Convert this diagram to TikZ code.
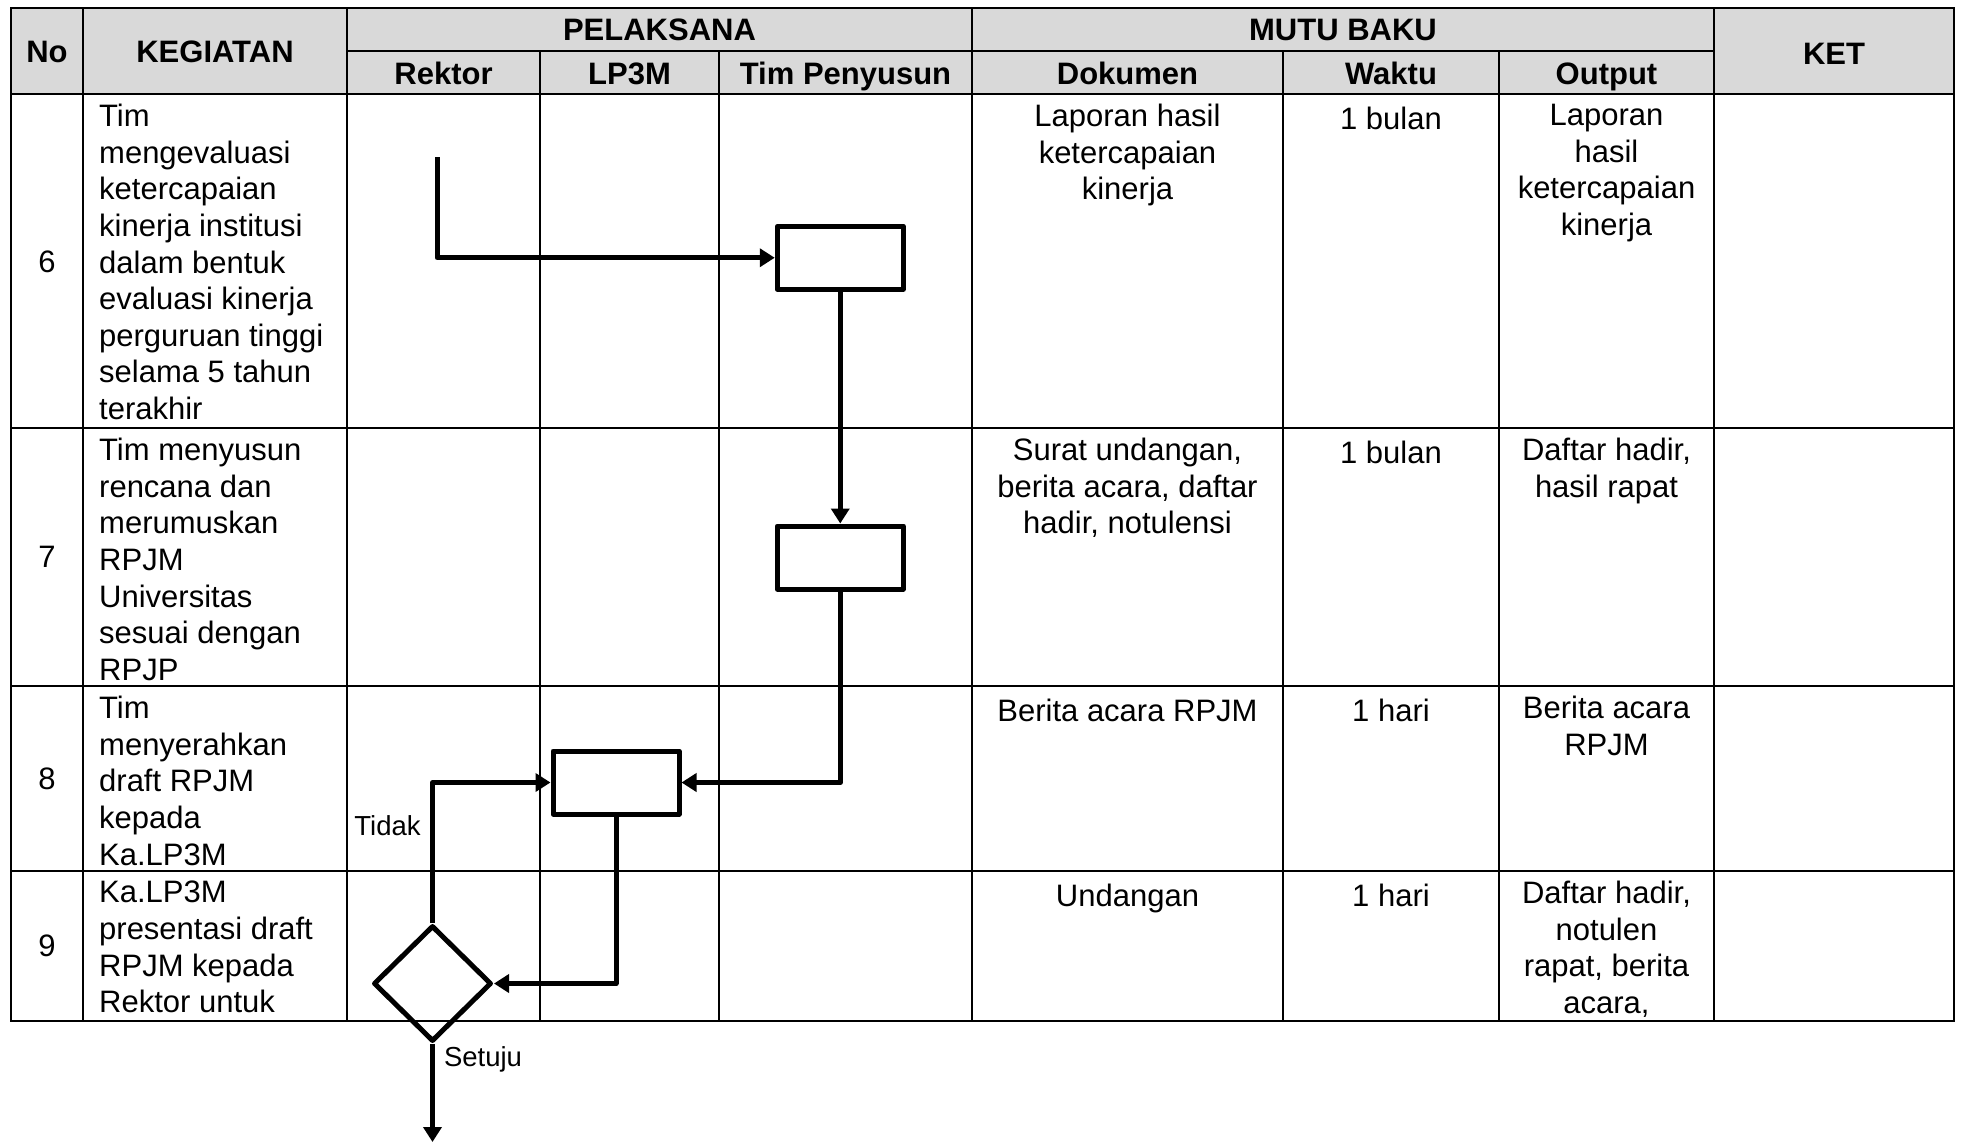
\documentclass[tikz,border=0pt]{standalone}
\usepackage{fontspec}
\setmainfont{Liberation Sans}
\usetikzlibrary{arrows.meta,shapes.geometric}

\tikzset{
  garis/.style={line width=2pt},
  isi/.style={anchor=north, inner sep=0pt, font=\fontsize{31}{36.6}\selectfont, execute at begin node=\strut},
  kiri/.style={isi, align=left, anchor=north west},
  tengah/.style={isi, align=center},
  judul/.style={anchor=base, inner sep=0pt, font=\fontsize{31}{36.6}\selectfont\bfseries},
  nomor/.style={inner sep=0pt, font=\fontsize{31}{36.6}\selectfont},
  kotak/.style={draw, line width=5pt, line join=round, minimum width=126pt, minimum height=63pt, inner sep=0pt},
  keputusan/.style={draw, diamond, line width=5pt, line join=round, minimum width=118pt, minimum height=116pt, inner sep=0pt},
  alur/.style={line width=5pt, line join=round},
  label/.style={inner sep=0pt, font=\fontsize{27.5}{32}\selectfont}
}

\begin{document}
\begin{tikzpicture}[x=1pt, y=-1pt, >={Triangle[length=15pt,width=18pt]}]
  \useasboundingbox (0,0) rectangle (1963,1143);

  % Kepala tabel
  \fill[gray!30] (11,8) rectangle (1954,94);
  \draw[garis] (11,8) rectangle (1954,1021);
  \draw[garis] (347,51) -- (1714,51);
  \foreach \y in {94,428,686,871}
    \draw[garis] (11,\y) -- (1954,\y);
  \foreach \x in {83,347,1714}
    \draw[garis] (\x,8) -- (\x,1021);
  \foreach \x in {540,719,1283,1499}
    \draw[garis] (\x,51) -- (\x,1021);
  \draw[garis] (972,8) -- (972,1021);

  \node[judul] (hNo) at (47,62.5) {No};
  \node[judul] (hKeg) at (215,62.5) {KEGIATAN};
  \node[judul] (hPel) at (659.5,40.5) {PELAKSANA};
  \node[judul] (hMutu) at (1343,40.5) {MUTU BAKU};
  \node[judul] (hKet) at (1834,64) {KET};
  \node[judul] (hRek) at (443.5,84) {Rektor};
  \node[judul] (hLp) at (629.5,84) {LP3M};
  \node[judul] (hTim) at (845.5,84) {Tim Penyusun};
  \node[judul] (hDok) at (1127.5,84) {Dokumen};
  \node[judul] (hWkt) at (1391,84) {Waktu};
  \node[judul] (hOut) at (1606.5,84) {Output};

  % Baris 6
  \node[nomor] (no6) at (47,262) {6};
  \node[kiri] (keg6) at (99,104) {Tim\\mengevaluasi\\ketercapaian\\kinerja institusi\\dalam bentuk\\evaluasi kinerja\\perguruan tinggi\\selama 5 tahun\\terakhir};
  \node[tengah] (dok6) at (1127.5,104) {Laporan hasil\\ketercapaian\\kinerja};
  \node[tengah] (wkt6) at (1391,104) {1 bulan};
  \node[tengah] (out6) at (1606.5,104) {Laporan\\hasil\\ketercapaian\\kinerja};

  % Baris 7
  \node[nomor] (no7) at (47,557) {7};
  \node[kiri] (keg7) at (99,438) {Tim menyusun\\rencana dan\\merumuskan\\RPJM\\Universitas\\sesuai dengan\\RPJP};
  \node[tengah] (dok7) at (1127.5,438) {Surat undangan,\\berita acara, daftar\\hadir, notulensi};
  \node[tengah] (wkt7) at (1391,438) {1 bulan};
  \node[tengah] (out7) at (1606.5,438) {Daftar hadir,\\hasil rapat};

  % Baris 8
  \node[nomor] (no8) at (47,779) {8};
  \node[kiri] (keg8) at (99,696) {Tim\\menyerahkan\\draft RPJM\\kepada\\Ka.LP3M};
  \node[tengah] (dok8) at (1127.5,696) {Berita acara RPJM};
  \node[tengah] (wkt8) at (1391,696) {1 hari};
  \node[tengah] (out8) at (1606.5,696) {Berita acara\\RPJM};

  % Baris 9
  \node[nomor] (no9) at (47,946) {9};
  \node[kiri] (keg9) at (99,881) {Ka.LP3M\\presentasi draft\\RPJM kepada\\Rektor untuk};
  \node[tengah] (dok9) at (1127.5,881) {Undangan};
  \node[tengah] (wkt9) at (1391,881) {1 hari};
  \node[tengah] (out9) at (1606.5,881) {Daftar hadir,\\notulen\\rapat, berita\\acara,};

  % Bagan alir
  \coordinate (mulai) at (437,157);
  \node[kotak] (b6) at (840.25,257.75) {};
  \node[kotak] (b7) at (840.25,557.5) {};
  \node[kotak] (b8) at (616,782.5) {};
  \node[keputusan] (d9) at (432.5,983.5) {};
  \coordinate (akhir) at (432.5,1142);

  \draw[alur,->] (mulai) |- (b6.west);
  \draw[alur,->] (b6.south) -- (b7.north);
  \draw[alur,->] (b7.south) |- (b8.east);
  \draw[alur,->] (b8.south) |- (d9.east);
  \draw[alur,->] (d9.north) |- (b8.west);
  \draw[alur,->] (d9.south) -- (akhir);

  \node[label] (tidak) at (387.5,826) {Tidak};
  \node[label] (setuju) at (483,1059) {Setuju};
\end{tikzpicture}
\end{document}
